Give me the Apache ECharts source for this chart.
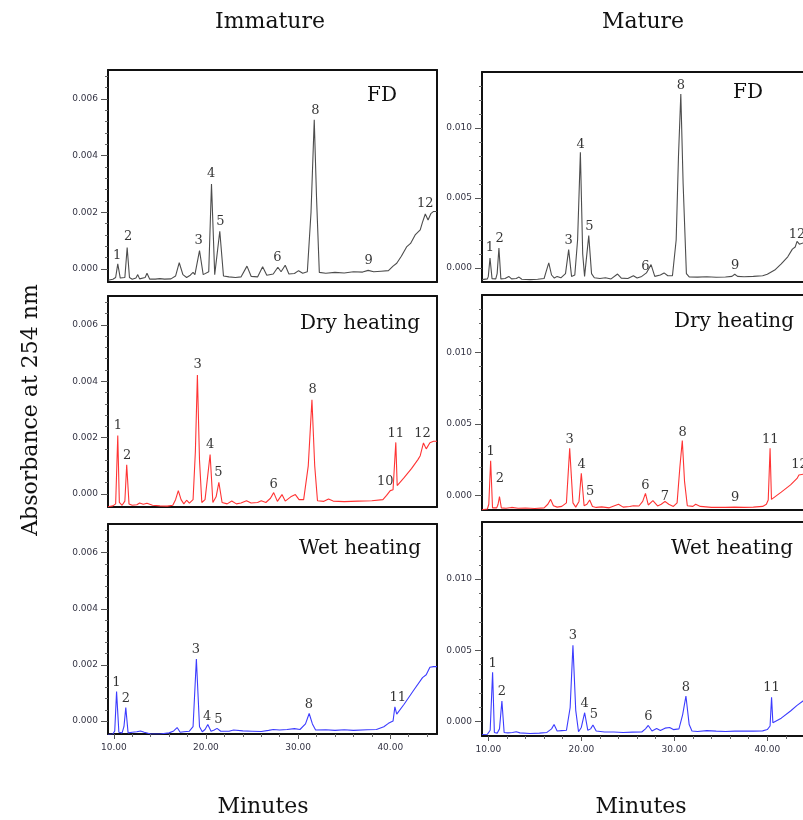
<!DOCTYPE html>
<html><head><meta charset="utf-8">
<script src="https://cdn.jsdelivr.net/npm/echarts@6/dist/echarts.min.js"></script>
<style>html,body{margin:0;padding:0;background:#fff}#c{width:803px;height:820px}</style>
</head><body><div id="c"></div>
<script>
// ---------- data: [minutes, absorbance] ----------
const immatureFD = [
[9.37,-0.00040],[9.9,-0.00036],[10.2,-0.00030],[10.43,0.00018],[10.7,-0.00032],[11.2,-0.00030],[11.45,0.00076],[11.7,-0.00030],
[12.0,-0.00036],[12.4,-0.00032],[12.6,-0.00020],[12.8,-0.00035],[13.4,-0.00030],[13.6,-0.00015],[13.9,-0.00036],[14.5,-0.00036],
[15.0,-0.00034],[15.5,-0.00036],[16.2,-0.00035],[16.7,-0.00025],[17.1,0.00022],[17.5,-0.00020],[17.9,-0.00030],[18.3,-0.00022],
[18.6,-0.00012],[18.8,-0.00020],[19.3,0.00065],[19.7,-0.00020],[20.3,-0.00010],[20.6,0.00300],[20.95,-0.00020],[21.5,0.00133],
[21.9,-0.00025],[22.5,-0.00028],[23.2,-0.00030],[23.8,-0.00028],[24.45,0.00010],[24.9,-0.00026],[25.6,-0.00028],[26.15,0.00008],
[26.6,-0.00022],[27.3,-0.00018],[27.8,0.00006],[28.15,-0.00010],[28.6,0.00013],[29.0,-0.00018],[29.6,-0.00016],[30.05,-0.00006],
[30.5,-0.00015],[31.0,-0.00010],[31.4,0.00200],[31.75,0.00526],[32.0,0.00250],[32.3,-0.00012],[33.0,-0.00015],[34.0,-0.00012],
[35.0,-0.00014],[36.0,-0.00010],[37.0,-0.00011],[37.6,-0.00005],[38.2,-0.00010],[39.0,-0.00008],[39.8,-0.00006],[40.3,0.00010],
[40.7,0.00020],[41.2,0.00045],[41.8,0.00079],[42.2,0.00090],[42.7,0.00120],[43.25,0.00138],[43.5,0.00165],[43.8,0.00194],
[44.1,0.00173],[44.4,0.00195],[44.7,0.00203],[45.07,0.00203]
];
const immatureDry = [
[9.37,-0.00045],[9.9,-0.00042],[10.2,-0.00035],[10.43,0.00207],[10.6,-0.00030],[10.9,-0.00040],[11.2,-0.00025],[11.4,0.00104],
[11.65,-0.00035],[12.0,-0.00040],[12.5,-0.00038],[12.8,-0.00032],[13.2,-0.00036],[13.6,-0.00033],[14.2,-0.00040],[15.0,-0.00042],
[15.8,-0.00043],[16.4,-0.00040],[16.7,-0.00020],[17.0,0.00012],[17.3,-0.00020],[17.6,-0.00035],[17.9,-0.00022],[18.2,-0.00032],
[18.6,-0.00020],[18.85,0.00150],[19.07,0.00422],[19.3,0.00120],[19.55,-0.00030],[19.9,-0.00020],[20.45,0.00140],[20.75,-0.00030],
[21.1,-0.00010],[21.4,0.00041],[21.75,-0.00030],[22.3,-0.00035],[22.8,-0.00025],[23.3,-0.00035],[23.8,-0.00032],[24.4,-0.00024],
[24.9,-0.00032],[25.6,-0.00030],[26.0,-0.00024],[26.5,-0.00030],[27.0,-0.00015],[27.35,0.00005],[27.75,-0.00026],[28.25,-0.00002],
[28.6,-0.00025],[29.2,-0.00010],[29.7,-0.00002],[30.1,-0.00020],[30.6,-0.00020],[31.1,0.00100],[31.5,0.00334],[31.8,0.00100],
[32.1,-0.00024],[32.8,-0.00026],[33.3,-0.00018],[33.8,-0.00025],[35.0,-0.00027],[36.5,-0.00025],[38.0,-0.00024],[39.2,-0.00020],
[39.6,-0.00005],[40.0,0.00012],[40.3,0.00015],[40.6,0.00183],[40.75,0.00030],[41.5,0.00058],[42.3,0.00090],[43.0,0.00122],
[43.25,0.00136],[43.6,0.00181],[43.9,0.00160],[44.3,0.00182],[44.7,0.00187],[45.07,0.00187]
];
const immatureWet = [
[9.37,-0.00048],[9.9,-0.00046],[10.1,-0.00035],[10.3,0.00105],[10.55,-0.00040],[10.9,-0.00042],[11.1,-0.00020],[11.3,0.00048],
[11.55,-0.00042],[12.0,-0.00040],[12.5,-0.00038],[12.9,-0.00035],[13.3,-0.00040],[14.0,-0.00046],[15.0,-0.00046],[16.0,-0.00042],
[16.5,-0.00035],[16.87,-0.00023],[17.2,-0.00040],[17.6,-0.00038],[18.2,-0.00036],[18.6,-0.00020],[18.96,0.00221],[19.3,-0.00020],
[19.6,-0.00038],[19.9,-0.00030],[20.2,-0.00012],[20.55,-0.00036],[20.9,-0.00032],[21.2,-0.00026],[21.6,-0.00036],[22.5,-0.00036],
[23.0,-0.00032],[24.0,-0.00035],[25.0,-0.00036],[26.0,-0.00037],[26.8,-0.00033],[27.3,-0.00030],[28.0,-0.00032],[28.8,-0.00030],
[29.6,-0.00027],[30.2,-0.00030],[30.8,-0.00010],[31.2,0.00027],[31.55,-0.00010],[31.9,-0.00032],[33.0,-0.00031],[34.0,-0.00033],
[35.0,-0.00031],[36.0,-0.00033],[37.5,-0.00031],[38.5,-0.00030],[39.3,-0.00020],[39.8,-0.00008],[40.3,0.00000],[40.5,0.00051],
[40.7,0.00025],[41.5,0.00060],[42.5,0.00108],[43.5,0.00155],[43.9,0.00165],[44.3,0.00192],[44.7,0.00194],[45.07,0.00194]
];
const matureFD = [
[9.32,-0.00083],[9.9,-0.00078],[10.0,-0.00060],[10.18,0.00071],[10.4,-0.00076],[10.8,-0.00078],[10.95,-0.00040],[11.14,0.00143],
[11.35,-0.00078],[11.8,-0.00075],[12.2,-0.00060],[12.5,-0.00078],[13.0,-0.00075],[13.3,-0.00065],[13.6,-0.00080],[14.5,-0.00083],
[15.3,-0.00080],[16.0,-0.00075],[16.2,-0.00030],[16.5,0.00036],[16.8,-0.00050],[17.1,-0.00072],[17.4,-0.00060],[17.8,-0.00070],
[18.3,-0.00040],[18.64,0.00131],[18.95,-0.00060],[19.3,-0.00050],[19.6,0.00200],[19.9,0.00826],[20.15,0.00100],[20.35,-0.00060],
[20.8,0.00231],[21.1,-0.00040],[21.4,-0.00070],[22.0,-0.00075],[22.6,-0.00070],[23.2,-0.00078],[23.9,-0.00043],[24.3,-0.00072],
[25.0,-0.00075],[25.6,-0.00055],[26.0,-0.00072],[26.5,-0.00060],[27.0,-0.00035],[27.5,0.00024],[27.9,-0.00060],[28.5,-0.00050],
[28.9,-0.00035],[29.3,-0.00055],[29.8,-0.00055],[30.2,0.00200],[30.45,0.00800],[30.7,0.01242],[30.95,0.00600],[31.3,-0.00040],
[31.6,-0.00064],[32.5,-0.00065],[33.5,-0.00062],[34.5,-0.00066],[35.5,-0.00064],[36.2,-0.00060],[36.5,-0.00045],[36.8,-0.00060],
[37.5,-0.00062],[38.5,-0.00060],[39.5,-0.00055],[40.0,-0.00045],[40.8,-0.00015],[41.5,0.00030],[42.2,0.00080],[42.7,0.00135],
[43.0,0.00150],[43.2,0.00190],[43.45,0.00170],[43.9,0.00180]
];
const matureDry = [
[9.32,-0.00098],[9.9,-0.00093],[10.05,-0.00060],[10.25,0.00244],[10.45,-0.00085],[10.9,-0.00085],[11.05,-0.00060],[11.2,-0.00007],
[11.4,-0.00085],[11.9,-0.00088],[12.5,-0.00082],[13.2,-0.00088],[14.0,-0.00086],[15.0,-0.00090],[16.0,-0.00085],[16.4,-0.00060],
[16.7,-0.00026],[17.0,-0.00070],[17.4,-0.00080],[17.9,-0.00075],[18.4,-0.00050],[18.75,0.00330],[19.1,-0.00050],[19.4,-0.00080],
[19.75,-0.00040],[20.0,0.00156],[20.3,-0.00070],[20.6,-0.00060],[20.9,-0.00030],[21.2,-0.00075],[21.6,-0.00082],[22.2,-0.00078],
[23.0,-0.00085],[24.0,-0.00060],[24.5,-0.00080],[25.2,-0.00076],[25.6,-0.00070],[26.2,-0.00072],[26.6,-0.00040],[26.9,0.00016],
[27.2,-0.00065],[27.7,-0.00035],[28.2,-0.00072],[28.6,-0.00060],[29.0,-0.00040],[29.4,-0.00060],[29.9,-0.00075],[30.3,-0.00050],
[30.6,0.00200],[30.86,0.00384],[31.1,0.00100],[31.4,-0.00070],[32.0,-0.00075],[32.3,-0.00060],[32.8,-0.00075],[34.0,-0.00082],
[35.5,-0.00082],[36.5,-0.00080],[37.5,-0.00082],[38.5,-0.00080],[39.5,-0.00075],[39.9,-0.00060],[40.1,-0.00030],[40.3,0.00330],
[40.45,-0.00026],[41.5,0.00025],[42.5,0.00075],[43.2,0.00120],[43.4,0.00144],[43.6,0.00138],[43.9,0.00150]
];
const matureWet = [
[9.32,-0.00090],[9.9,-0.00088],[10.2,-0.00060],[10.46,0.00347],[10.65,-0.00075],[10.95,-0.00080],[11.2,-0.00050],[11.46,0.00145],
[11.7,-0.00075],[12.1,-0.00078],[12.6,-0.00075],[13.0,-0.00070],[13.4,-0.00078],[14.5,-0.00082],[15.5,-0.00080],[16.3,-0.00075],
[16.8,-0.00050],[17.07,-0.00019],[17.4,-0.00065],[17.9,-0.00062],[18.4,-0.00060],[18.8,0.00100],[19.1,0.00536],[19.4,0.00080],
[19.7,-0.00070],[20.0,-0.00040],[20.36,0.00063],[20.7,-0.00060],[21.0,-0.00050],[21.25,-0.00023],[21.6,-0.00065],[22.5,-0.00072],
[23.5,-0.00072],[24.5,-0.00075],[25.5,-0.00073],[26.5,-0.00072],[26.9,-0.00050],[27.2,-0.00026],[27.6,-0.00065],[28.1,-0.00048],
[28.5,-0.00062],[29.0,-0.00045],[29.5,-0.00040],[29.9,-0.00055],[30.5,-0.00050],[30.9,0.00050],[31.25,0.00180],[31.6,-0.00020],
[31.9,-0.00065],[32.5,-0.00068],[33.5,-0.00062],[34.5,-0.00066],[35.5,-0.00068],[36.5,-0.00066],[37.5,-0.00066],[38.5,-0.00066],
[39.5,-0.00064],[40.0,-0.00055],[40.3,-0.00030],[40.46,0.00172],[40.6,-0.00007],[41.5,0.00025],[42.5,0.00075],[43.2,0.00115],
[43.9,0.00148]
];
// peak labels: [text, minutes, absorbance at text bottom]
const immatureFDPeaks = [['1',10.36,0.00028],['2',11.55,0.00096],['3',19.2,0.00082],['4',20.55,0.00318],['5',21.56,0.00149],
  ['6',27.74,0.00020],['8',31.86,0.00540],['9',37.65,0.00010],['12',43.8,0.00210]];
const immatureDryPeaks = [['1',10.43,0.00222],['2',11.45,0.00118],['3',19.1,0.00438],['4',20.44,0.00154],['5',21.35,0.00056],
  ['6',27.35,0.00014],['8',31.58,0.00349],['10',39.45,0.00024],['11',40.6,0.00195],['12',43.5,0.00195]];
const immatureWetPeaks = [['1',10.29,0.00117],['2',11.3,0.00060],['3',18.9,0.00236],['4',20.12,-0.00002],['5',21.35,-0.00014],
  ['8',31.18,0.00039],['11',40.8,0.00063]];
const matureFDPeaks = [['1',10.18,0.00107],['2',11.21,0.00174],['3',18.64,0.00155],['4',19.93,0.00845],['5',20.86,0.00255],
  ['6',26.9,-0.00030],['8',30.71,0.01260],['9',36.54,-0.00019],['12',43.2,0.00200]];
const matureDryPeaks = [['1',10.25,0.00272],['2',11.25,0.00079],['3',18.75,0.00354],['4',20.04,0.00179],['5',20.96,-0.00007],
  ['6',26.9,0.00035],['7',29.0,-0.00044],['8',30.9,0.00400],['9',36.54,-0.00054],['11',40.32,0.00351],['12',43.46,0.00179]];
const matureWetPeaks = [['1',10.46,0.00366],['2',11.46,0.00172],['3',19.1,0.00564],['4',20.36,0.00086],['5',21.36,0.00012],
  ['6',27.2,0.00000],['8',31.25,0.00203],['11',40.46,0.00198]];
// ticks
const xTicks = [10, 20, 30, 40];
const xMinorTicks = [12,14,16,18,22,24,26,28,32,34,36,38,42,44];
const leftYTicks = [0, 0.002, 0.004, 0.006];
const leftYMinor = [0.0004,0.0008,0.0012,0.0016,0.0024,0.0028,0.0032,0.0036,0.0044,0.0048,0.0052,0.0056,0.0064,0.0068];
const rightYTicks = [0, 0.005, 0.010];
const rightYMinor = [0.001,0.002,0.003,0.004,0.006,0.007,0.008,0.009,0.011,0.012,0.013];
const columnTitles = ['Immature', 'Mature'];
const treatmentNames = ['FD', 'Dry heating', 'Wet heating'];

// ---------- layout ----------
const GRAY = '#4d4d4d', RED = '#ff3434', BLUE = '#3c3cff';
const LEFT_X = [9.37, 45.07], RIGHT_X = [9.32, 43.84];
const panels = [
  {data: immatureFD,  peaks: immatureFDPeaks,  color: GRAY, side: 'L', row: 0, grid: {left:108, top:70,  width:329, height:212}, name: treatmentNames[0], nx: 382, ny: 96},
  {data: immatureDry, peaks: immatureDryPeaks, color: RED,  side: 'L', row: 1, grid: {left:108, top:296, width:329, height:211}, name: treatmentNames[1], nx: 360, ny: 324},
  {data: immatureWet, peaks: immatureWetPeaks, color: BLUE, side: 'L', row: 2, grid: {left:108, top:524, width:329, height:210}, name: treatmentNames[2], nx: 360, ny: 549},
  {data: matureFD,    peaks: matureFDPeaks,    color: GRAY, side: 'R', row: 0, grid: {left:482, top:72,  width:321, height:210}, name: treatmentNames[0], nx: 748, ny: 93},
  {data: matureDry,   peaks: matureDryPeaks,   color: RED,  side: 'R', row: 1, grid: {left:482, top:295, width:321, height:215}, name: treatmentNames[1], nx: 734, ny: 322},
  {data: matureWet,   peaks: matureWetPeaks,   color: BLUE, side: 'R', row: 2, grid: {left:482, top:522, width:321, height:214}, name: treatmentNames[2], nx: 732, ny: 549}
];

const LABEL_COLOR = '#343444';
const BORDER = {color: '#111', width: 2};
const grids = [], xAxes = [], yAxes = [], series = [], graphics = [];
panels.forEach((p, i) => {
  grids.push(Object.assign({show: false, containLabel: false}, p.grid));
  const bottomRow = p.row === 2;
  const xr = p.side === 'L' ? LEFT_X : RIGHT_X;
  const yMin = p.side === 'L' ? -0.00046 : -0.001;
  const yMax = p.side === 'L' ? 0.00702 : 0.014;
  const yMaj = p.side === 'L' ? leftYTicks : rightYTicks;
  const yMinorV = p.side === 'L' ? leftYMinor : rightYMinor;
  const xi = xAxes.length, yi = yAxes.length;
  // main bottom x axis (bottom border)
  xAxes.push({
    type: 'value', gridIndex: i, min: xr[0], max: xr[1], position: 'bottom',
    axisLine: {show: true, onZero: false, lineStyle: BORDER},
    axisTick: {show: bottomRow, customValues: xTicks, length: 5, lineStyle: {color: '#555', width: 1}},
    axisLabel: {show: bottomRow, customValues: xTicks, margin: 9, fontFamily: 'DejaVu Sans', fontSize: 9, color: LABEL_COLOR,
      formatter: v => v.toFixed(2)},
    splitLine: {show: false}
  });
  // minor x ticks
  xAxes.push({
    type: 'value', gridIndex: i, min: xr[0], max: xr[1], position: 'bottom',
    axisLine: {show: false, onZero: false},
    axisTick: {show: bottomRow, customValues: xMinorTicks, length: 3, lineStyle: {color: '#666', width: 1}},
    axisLabel: {show: false}, splitLine: {show: false}
  });
  // top border
  xAxes.push({
    type: 'value', gridIndex: i, min: xr[0], max: xr[1], position: 'top',
    axisLine: {show: true, onZero: false, lineStyle: BORDER},
    axisTick: {show: false}, axisLabel: {show: false}, splitLine: {show: false}
  });
  // main y axis (left border)
  yAxes.push({
    type: 'value', gridIndex: i, min: yMin, max: yMax, position: 'left',
    axisLine: {show: true, onZero: false, lineStyle: BORDER},
    axisTick: {show: true, customValues: yMaj, length: 7, lineStyle: {color: '#555', width: 1}},
    axisLabel: {show: true, customValues: yMaj, margin: 10, fontFamily: 'DejaVu Sans', fontSize: 9, color: LABEL_COLOR,
      formatter: v => v.toFixed(3)},
    splitLine: {show: false}
  });
  yAxes.push({
    type: 'value', gridIndex: i, min: yMin, max: yMax, position: 'left',
    axisLine: {show: false, onZero: false},
    axisTick: {show: true, customValues: yMinorV, length: 3, lineStyle: {color: '#666', width: 1}},
    axisLabel: {show: false}, splitLine: {show: false}
  });
  if (p.side === 'L') {
    // right border
    yAxes.push({
      type: 'value', gridIndex: i, min: yMin, max: yMax, position: 'right',
      axisLine: {show: true, onZero: false, lineStyle: BORDER},
      axisTick: {show: false}, axisLabel: {show: false}, splitLine: {show: false}
    });
  }
  series.push({
    type: 'line', xAxisIndex: xi, yAxisIndex: yi, data: p.data, showSymbol: false, symbol: 'none',
    lineStyle: {color: p.color, width: 1.1}, itemStyle: {color: p.color}, smooth: false, clip: true, silent: true
  });
  series.push({
    type: 'scatter', xAxisIndex: xi, yAxisIndex: yi, symbolSize: 0, silent: true,
    data: p.peaks.map(d => ({name: d[0], value: [d[1], d[2]]})),
    label: {show: true, position: 'top', distance: -1, formatter: q => q.name,
      fontFamily: 'DejaVu Serif', fontSize: 13, color: '#000'}
  });
  graphics.push({type: 'text', x: p.nx, y: p.ny,
    style: {text: p.name, fill: '#111', font: '20px "DejaVu Serif"', textAlign: 'center', textVerticalAlign: 'middle'}});
});

const titleFont = '22px "DejaVu Serif"';
graphics.push({type: 'text', x: 270, y: 22, style: {text: columnTitles[0], fill: '#111', font: titleFont, textAlign: 'center', textVerticalAlign: 'middle'}});
graphics.push({type: 'text', x: 643, y: 22, style: {text: columnTitles[1], fill: '#111', font: titleFont, textAlign: 'center', textVerticalAlign: 'middle'}});
graphics.push({type: 'text', x: 263, y: 807, style: {text: 'Minutes', fill: '#111', font: titleFont, textAlign: 'center', textVerticalAlign: 'middle'}});
graphics.push({type: 'text', x: 641, y: 807, style: {text: 'Minutes', fill: '#111', font: titleFont, textAlign: 'center', textVerticalAlign: 'middle'}});
graphics.push({type: 'text', x: 31, y: 410, rotation: Math.PI / 2,
  style: {text: 'Absorbance at 254 nm', fill: '#111', font: titleFont, textAlign: 'center', textVerticalAlign: 'middle'}});

const chart = echarts.init(document.getElementById('c'), null, {renderer: 'canvas'});
chart.setOption({
  animation: false,
  backgroundColor: '#fff',
  grid: grids, xAxis: xAxes, yAxis: yAxes, series: series,
  graphic: {elements: graphics}
});
</script></body></html>
